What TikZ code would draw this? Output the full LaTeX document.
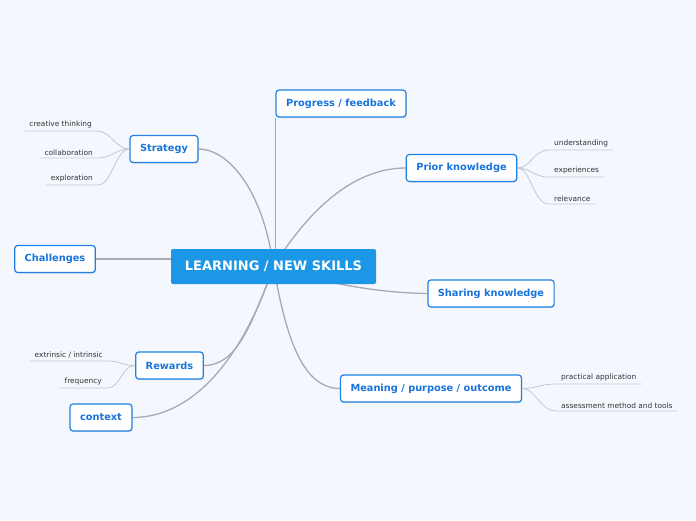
\documentclass[tikz,border=0pt]{standalone}
\usepackage{fontspec}
\setmainfont{DejaVu Sans}
\usetikzlibrary{shadows}
\definecolor{bgblue}{RGB}{244, 247, 254}
\definecolor{topicblue}{RGB}{27, 151, 230}
\definecolor{edgeblue}{RGB}{32, 128, 228}
\definecolor{textblue}{RGB}{24, 116, 220}
\definecolor{linegray}{RGB}{168, 170, 176}
\definecolor{sublinegray}{RGB}{196, 199, 207}
\pgfdeclarelayer{back}
\pgfdeclarelayer{links}
\pgfsetlayers{back,links,main}

\begin{document}
\begin{tikzpicture}[x=1pt, y=-1pt,
            central/.style = {
                fill=topicblue,
                text=white,
                font=\bfseries\fontsize{13}{15}\selectfont,
                rounded corners=2pt,
                minimum height=35pt,
                minimum width=205pt,
                },
            topic/.style = {
                draw=edgeblue,
                line width=1.2pt,
                fill=white,
                text=textblue,
                font=\bfseries\fontsize{9.8}{11}\selectfont,
                rounded corners=3pt,
                minimum height=27pt,
                inner xsep=10pt,
                drop shadow={shadow xshift=0.6pt, shadow yshift=-1pt, opacity=0.25},
                },
            subtopic/.style = {
                text=black!80,
                font=\fontsize{7.4}{8}\selectfont,
                inner xsep=5pt,
                inner ysep=2.5pt,
                },
            branch/.style = {draw=linegray, line width=1.3pt},
            twig/.style = {draw=sublinegray, line width=0.8pt}]
            \begin{pgfonlayer}{back}
                \fill[bgblue] (0,0) rectangle (696,520);
            \end{pgfonlayer}
            \useasboundingbox (0,0) rectangle (696,520);

            \node[central] (learning) at (273.5,266.5) {LEARNING / NEW SKILLS};
            \node[topic] (progress) at (341,103.5) {Progress / feedback};
            \node[topic] (prior) at (461.5,168) {Prior knowledge};
            \node[topic] (sharing) at (491,293.5) {Sharing knowledge};
            \node[topic] (meaning) at (431,388.5) {Meaning / purpose / outcome};
            \node[topic] (strategy) at (164,149) {Strategy};
            \node[topic] (challenges) at (55,259) {Challenges};
            \node[topic] (rewards) at (169.5,365.5) {Rewards};
            \node[topic] (context) at (101,417.5) {context};

            % main branches, behind the boxes
            \begin{pgfonlayer}{links}
            \path[branch] (progress.south west |- learning) -- (progress.south west);
            \path[branch] (learning.center) .. controls (262,185) and (226,149) .. (strategy.east);
            \path[branch] (learning.center) .. controls (315,200) and (360,168) .. (prior.west);
            \path[branch] (challenges.east) -- (challenges.east -| learning);
            \path[branch] (learning.center) .. controls (335,287) and (390,293) .. (sharing.west);
            \path[branch] (learning.center) .. controls (285,330) and (300,388.5) .. (meaning.west);
            \path[branch] (learning.center) .. controls (250,330) and (235,365.5) .. (rewards.east);
            \path[branch] (learning.center) .. controls (235,380) and (180,417.5) .. (context.east);
            \end{pgfonlayer}

            % subtopics of Strategy
            \node[subtopic, anchor=south east] (creative) at (97,131) {creative thinking};
            \node[subtopic, anchor=south east] (collab) at (98,158) {collaboration};
            \node[subtopic, anchor=south east] (explore) at (98,185) {exploration};
            \foreach \s in {creative, collab, explore}
                \path[twig] (\s.south west) -- (\s.south east)
                    .. controls +(14,0) and +(-14,0) .. (strategy.west);

            % subtopics of Prior knowledge
            \node[subtopic, anchor=south west] (underst) at (549,150) {understanding};
            \node[subtopic, anchor=south west] (exper) at (549,177) {experiences};
            \node[subtopic, anchor=south west] (relev) at (549,204) {relevance};
            \foreach \s in {underst, exper, relev}
                \path[twig] (\s.south east) -- (\s.south west)
                    .. controls +(-16,0) and +(14,0) .. (prior.east);

            % subtopics of Rewards
            \node[subtopic, anchor=south east] (extrinsic) at (108,361) {extrinsic / intrinsic};
            \node[subtopic, anchor=south east] (freq) at (107,388) {frequency};
            \foreach \s in {extrinsic, freq}
                \path[twig] (\s.south west) -- (\s.south east)
                    .. controls +(14,0) and +(-14,0) .. (rewards.west);

            % subtopics of Meaning
            \node[subtopic, anchor=south west] (practical) at (556,384) {practical application};
            \node[subtopic, anchor=south west] (assess) at (556,411) {assessment method and tools};
            \foreach \s in {practical, assess}
                \path[twig] (\s.south east) -- (\s.south west)
                    .. controls +(-16,0) and +(14,0) .. (meaning.east);
        \end{tikzpicture}
\end{document}
